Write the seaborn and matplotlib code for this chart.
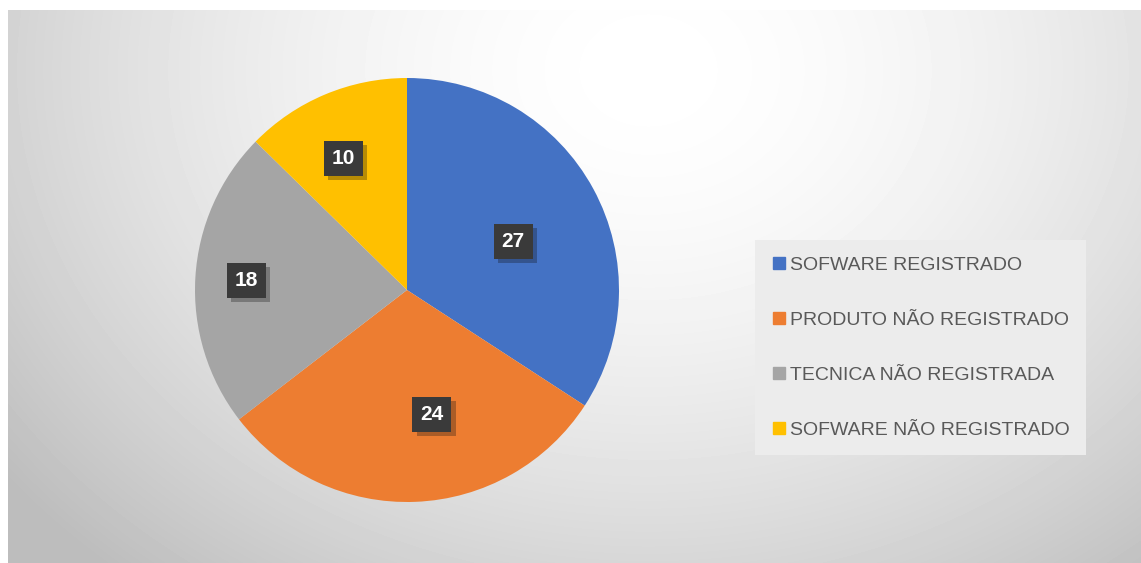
import numpy as np
import matplotlib
matplotlib.use("Agg")
import matplotlib.pyplot as plt
import matplotlib.patheffects as pe
from matplotlib.lines import Line2D
import seaborn as sns

# data
categories = ["SOFWARE REGISTRADO", "PRODUTO NÃO REGISTRADO",
              "TECNICA NÃO REGISTRADA", "SOFWARE NÃO REGISTRADO"]
values = [27, 24, 18, 10]
colors = ["#4472C4", "#ED7D31", "#A5A5A5", "#FFC000"]
# label placement (fraction of radius, angle nudge in degrees) like Excel's best fit
label_dist = [0.55, 0.60, 0.76, 0.69]
label_nudge = [-4, 9, 0, 3]

sns.set_theme(style="white")
plt.rcParams["font.family"] = ["Liberation Sans", "DejaVu Sans"]

W, H = 1141, 563
fig = plt.figure(figsize=(W / 100, H / 100), dpi=100)
fig.patch.set_facecolor("white")

# gradient panel behind the chart
bg = fig.add_axes([8 / W, 0, (W - 8) / W, (H - 10) / H])
yy, xx = np.mgrid[0:H - 10, 0:W - 8]
r = np.sqrt(((xx - 640) / 740.0) ** 2 + ((yy - 60) / 600.0) ** 2)
shade = 1.0 - 0.22 * np.clip(r, 0, 1.1) ** 1.7
bg.imshow(shade, cmap="gray", vmin=0, vmax=1, aspect="auto", interpolation="bilinear")
bg.set_axis_off()

# pie
cx, cy, rad = 407, 290, 212
ax = fig.add_axes([(cx - rad) / W, (H - cy - rad) / H, 2 * rad / W, 2 * rad / H])
wedges, _ = ax.pie(values, colors=colors, startangle=90, counterclock=False,
                   wedgeprops=dict(linewidth=0))
for w, v, d, n in zip(wedges, values, label_dist, label_nudge):
    ang = np.deg2rad((w.theta1 + w.theta2) / 2 + n)
    t = ax.text(d * np.cos(ang), d * np.sin(ang), str(v), ha="center", va="center",
                color="white", fontsize=15, fontweight="bold")
    t.set_bbox(dict(boxstyle="square,pad=0.38", facecolor="#3a3a3a", edgecolor="none"))
    t.get_bbox_patch().set_path_effects([pe.withSimplePatchShadow(offset=(3, -3), alpha=0.3)])
ax.set_xlim(-1, 1)
ax.set_ylim(-1, 1)
ax.set_aspect("equal")
ax.set_axis_off()

# legend
handles = [Line2D([0], [0], marker="s", linestyle="none", markersize=8,
                  markerfacecolor=c, markeredgecolor=c) for c in colors]
leg = fig.legend(handles, categories, loc="upper left",
                 bbox_to_anchor=(755 / W, 1 - 240 / H), frameon=True,
                 fontsize=14, labelspacing=1.92, handletextpad=0.15,
                 handlelength=0.8, borderpad=0.85, borderaxespad=0)
leg.get_frame().set_facecolor("#ececec")
leg.get_frame().set_edgecolor("none")
leg.get_frame().set_alpha(1)
leg.get_frame().set_boxstyle("square", pad=0)
for t in leg.get_texts():
    t.set_color("#595959")

fig.savefig("out.png", dpi=100)
